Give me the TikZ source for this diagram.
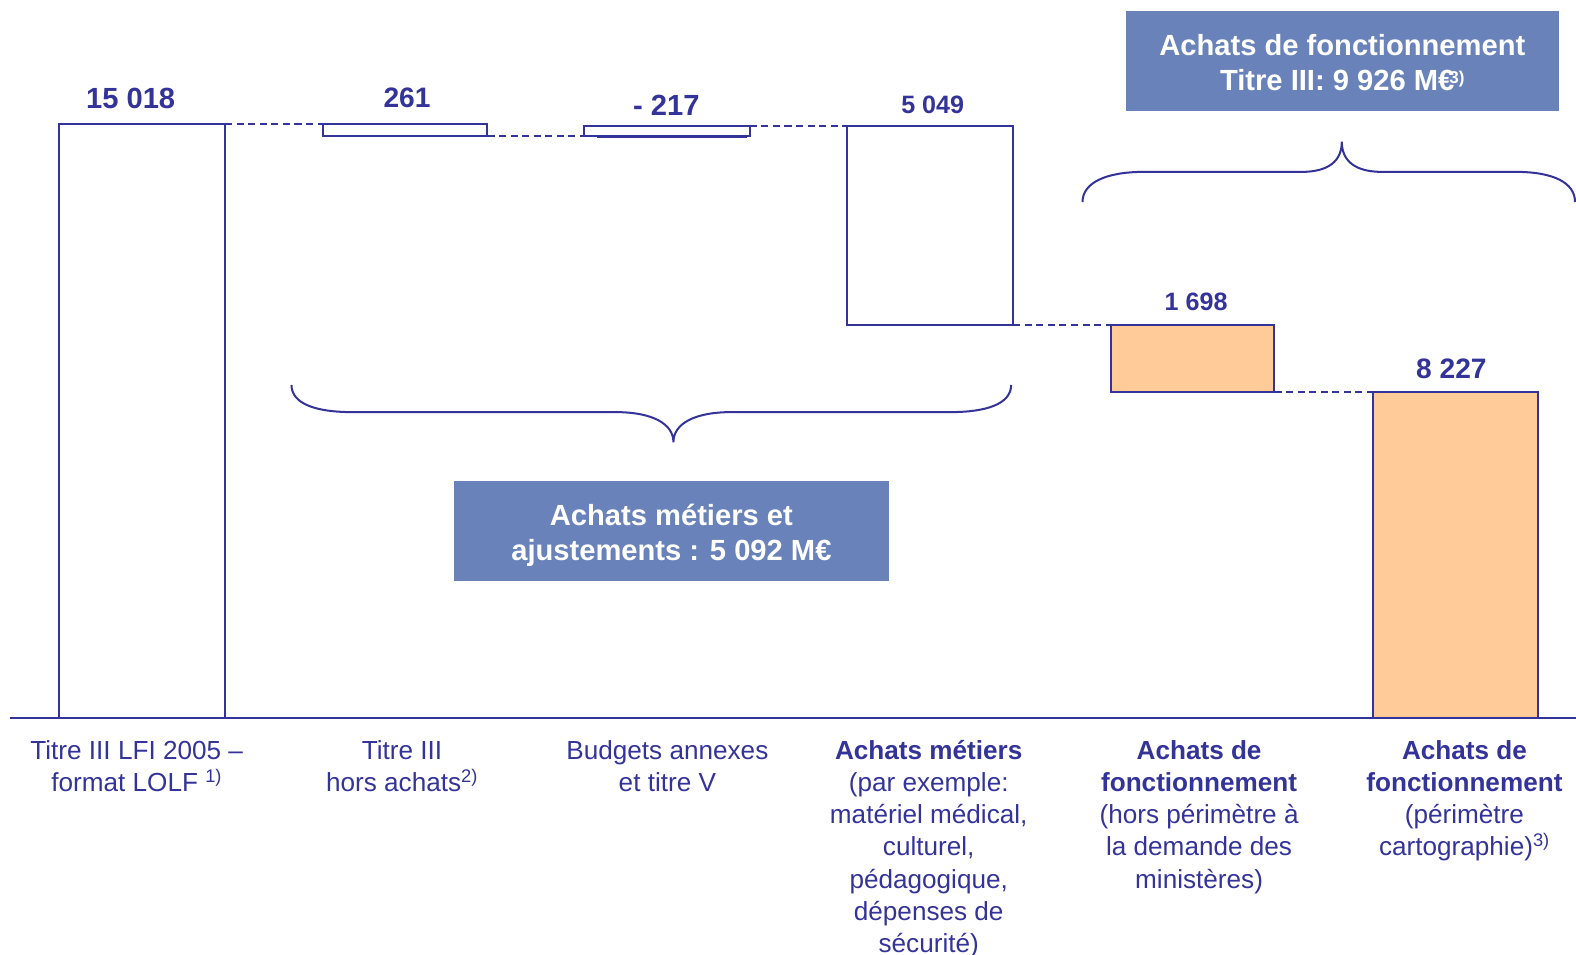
\documentclass[tikz,border=0pt]{standalone}
\usepackage{fontspec}
\setmainfont{Liberation Sans}
\definecolor{dblue}{RGB}{51,51,153}
\definecolor{boxblue}{RGB}{105,131,186}
\definecolor{orng}{RGB}{255,204,153}
\begin{document}
\begin{tikzpicture}[x=1pt,y=-1pt,
  bar/.style={draw=dblue, line width=2pt, inner sep=0pt, outer sep=0pt, anchor=north west},
  leader/.style={draw=dblue, line width=1.8pt, dash pattern=on 7pt off 4.5pt},
  axisline/.style={draw=dblue, line width=2pt},
  bracestyle/.style={draw=dblue, line width=2pt},
  valA/.style={text=dblue, anchor=base, inner sep=0pt, font=\fontsize{29}{34}\selectfont\bfseries},
  valB/.style={text=dblue, anchor=base, inner sep=0pt, font=\fontsize{25}{30}\selectfont\bfseries},
  bluebox/.style={fill=boxblue, inner sep=0pt},
  boxtext/.style={text=white, align=center, inner sep=0pt,
    font=\fontsize{29}{35}\selectfont\bfseries},
  lab/.style={text=dblue, align=center, anchor=north, inner sep=0pt,
    font=\fontsize{26}{32}\selectfont}]
\useasboundingbox (0,0) rectangle (1568,950);

% bars
\node[bar, minimum width=165pt, minimum height=591pt] (b1) at (59,123) {};
\node[bar, minimum width=164pt, minimum height=12pt] (b2) at (321,123) {};
\node[bar, minimum width=165pt, minimum height=10pt] (b3) at (581,125) {};
\draw[dblue, line width=2pt] ([xshift=13pt,yshift=-1pt]b3.south west) -- ([xshift=-3pt,yshift=-1pt]b3.south east);
\node[bar, minimum width=165pt, minimum height=198pt] (b4) at (843,125) {};
\node[bar, fill=orng, minimum width=163pt, minimum height=67pt] (b5) at (1105,323) {};
\node[bar, fill=orng, minimum width=164pt, minimum height=324pt] (b6) at (1366,390) {};

% axis
\coordinate (axL) at (10,714);
\coordinate (axR) at (1568,714);
\draw[axisline] (axL) -- (axR);

% dashed leaders
\draw[leader] (b1.north east) -- (b2.north west);
\draw[leader] (b2.south east) -- (b3.south west);
\draw[leader] (b3.north east) -- (b4.north west);
\draw[leader] (b4.south east) -- (b5.north west);
\draw[leader] (b5.south east) -- (b6.north west);

% values
\node[valA] (v1) at (130,108.4) {15 018};
\node[valA, font=\fontsize{28}{34}\selectfont\bfseries] (v2) at (405,107) {261};
\node[valA] (v3) at (663,115.4) {- 217};
\node[valB] (v4) at (928,113) {5 049};
\node[valB] (v5) at (1190,309) {1 698};
\node[valA, font=\fontsize{28}{34}\selectfont\bfseries] (v6) at (1444,377) {8 227};

% braces
\draw[bracestyle] (290,383) .. controls (290,402) and (315,410) .. (350,410)
  -- (612,410) .. controls (650,410) and (670,422) .. (670,440)
  .. controls (670,422) and (690,410) .. (728,410)
  -- (946,410) .. controls (981,410) and (1006,402) .. (1006,383);
\draw[bracestyle] (1077,201) .. controls (1077,182) and (1100,171) .. (1138,171)
  -- (1295,171) .. controls (1322,171) and (1335,160) .. (1335,141)
  .. controls (1335,160) and (1348,171) .. (1375,171)
  -- (1508,171) .. controls (1546,171) and (1567,182) .. (1567,201);

% summary boxes
\node[bluebox, minimum width=432pt, minimum height=99pt] (sumA) at (668,528.5) {};
\node[boxtext] (sumAtext) at (668,532.5) {Achats métiers et\\ajustements : 5 092 M€};
\node[bluebox, minimum width=431pt, minimum height=99pt] (sumB) at (1335.5,60.5) {};
\node[boxtext] (sumBtext) at (1335.5,62.5)
  {Achats de fonctionnement\\Titre III: 9 926 M€\kern-5pt\raisebox{7pt}{\fontsize{17}{17}\selectfont 3)}};

% category labels
\node[lab] (l1) at (136,735.3) {\rule{0pt}{20pt}Titre III LFI 2005 –\\format LOLF \textsuperscript{1)}};
\node[lab] (l2) at (400,735.3) {\rule{0pt}{20pt}Titre III\\hors achats\textsuperscript{2)}};
\node[lab] (l3) at (664,735.3) {\rule{0pt}{20pt}Budgets annexes\\et titre V};
\node[lab] (l4) at (924,735.3) {\rule{0pt}{20pt}\textbf{Achats métiers}\\(par exemple:\\matériel médical,\\culturel,\\pédagogique,\\dépenses de\\sécurité)};
\node[lab] (l5) at (1193,735.3) {\rule{0pt}{20pt}\textbf{Achats de}\\\textbf{fonctionnement}\\(hors périmètre à\\la demande des\\ministères)};
\node[lab] (l6) at (1457,735.3) {\rule{0pt}{20pt}\textbf{Achats de}\\\textbf{fonctionnement}\\(périmètre\\cartographie)\textsuperscript{3)}};
\end{tikzpicture}
\end{document}
